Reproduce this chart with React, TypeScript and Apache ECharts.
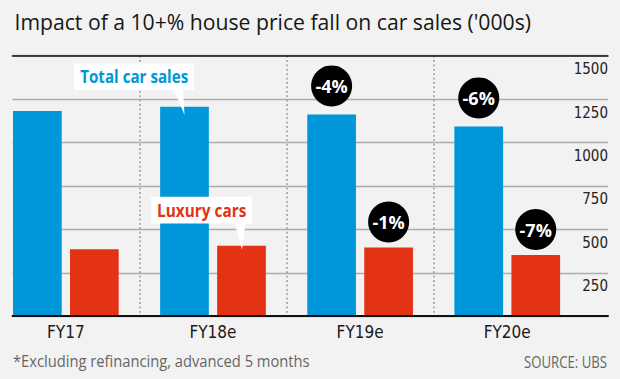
import React, { useEffect, useRef } from 'react';
import * as echarts from 'echarts';

const categories = ['FY17', 'FY18e', 'FY19e', 'FY20e'];
const totalSales = [1181, 1206, 1162, 1093];
const luxurySales = [386, 405, 396, 352];
const totalChange = ['', '', '-4%', '-6%'];
const luxuryChange = ['', '', '-1%', '-7%'];
const yMin = 0;
const yMax = 1500;
const yStep = 250;

const titleText = "Impact of a 10+% house price fall on car sales ('000s)";
const noteText = '*Excluding refinancing, advanced 5 months';
const sourceText = 'SOURCE: UBS';
const totalLabel = 'Total car sales';
const luxuryLabel = 'Luxury cars';

const BLUE = '#0096da';
const RED = '#e43214';
const BG = '#f2f2f2';
const UI_FONT = "'Open Sans', 'Noto Sans', sans-serif";
const AXIS_FONT = "'DejaVu Sans Condensed', 'DejaVu Sans', sans-serif";

function fit(text: string, size: number, weight: string, target: number) {
  const c = document.createElement('canvas').getContext('2d');
  if (!c) return 1;
  c.font = `${weight} ${size}px "Open Sans"`;
  const w = c.measureText(text).width;
  return w > 0 ? target / w : 1;
}

function textEl(id: string, text: string, x: number, y: number, size: number, weight: string,
  color: string, align: string, targetW: number) {
  return {
    type: 'text', id, x, y, z: 20,
    scaleX: fit(text, size, weight, targetW),
    style: {
      text, x: 0, y: 0, fontFamily: UI_FONT, fontSize: size, fontWeight: weight,
      fill: color, align, verticalAlign: 'middle',
    },
  };
}

export default function App() {
  const ref = useRef<HTMLDivElement>(null);
  useEffect(() => {
    if (!ref.current) return;
    const chart = echarts.init(ref.current, null, { renderer: 'svg' });
    const top = 55.7;
    const height = 260.5;
    const barW = 48.7;
    const gapPx = 8.3;
    const option: any = {
      animation: false,
      backgroundColor: BG,
      grid: [
        { left: -7.7, width: 588.5, top, height, outerBoundsMode: 'none', containLabel: false },
        { left: 12.5, right: 12, top, height, outerBoundsMode: 'none', containLabel: false },
      ],
      xAxis: [
        {
          gridIndex: 0, type: 'category', data: categories,
          axisLine: { show: false }, axisTick: { show: false },
          axisLabel: { fontFamily: AXIS_FONT, fontSize: 17, color: '#1a1a1a', margin: 7 },
          splitLine: {
            show: true, showMinLine: false, showMaxLine: false,
            lineStyle: { color: '#9c9c9c', width: 1.6, type: [1.8, 2.6] },
          },
        },
        {
          gridIndex: 1, type: 'value', min: 0, max: 1, position: 'bottom', z: 5,
          axisLine: { show: true, lineStyle: { color: '#111', width: 2 } },
          axisTick: { show: false }, axisLabel: { show: false }, splitLine: { show: false },
        },
        {
          gridIndex: 1, type: 'value', min: 0, max: 1, position: 'top', z: 5,
          axisLine: { show: true, lineStyle: { color: '#111', width: 1.5 } },
          axisTick: { show: false }, axisLabel: { show: false }, splitLine: { show: false },
        },
      ],
      yAxis: [
        { gridIndex: 0, type: 'value', min: yMin, max: yMax, interval: yStep, show: false },
        {
          gridIndex: 1, type: 'value', min: yMin, max: yMax, interval: yStep, position: 'right',
          axisLine: { show: false }, axisTick: { show: false },
          axisLabel: {
            inside: true, margin: 0, fontFamily: AXIS_FONT, fontSize: 15, color: '#222',
            verticalAlign: 'top', lineHeight: 15, padding: [6, 0, 0, 0],
            formatter: (v: number) => (v === 0 ? '' : String(v)),
          },
          splitLine: { show: true, lineStyle: { color: '#adadad', width: 1.3 } },
        },
      ],
      series: [
        {
          type: 'bar', name: totalLabel, xAxisIndex: 0, yAxisIndex: 0,
          data: totalSales, barWidth: barW, barGap: `${(gapPx / barW) * 100}%`,
          itemStyle: { color: BLUE },
          markPoint: {
            symbol: 'circle', symbolSize: 41, symbolOffset: [0, -28.5],
            itemStyle: { color: '#000' },
            label: {
              show: true, position: 'inside', color: '#fff', fontFamily: UI_FONT,
              fontWeight: 'bold', fontSize: 18, formatter: (p: any) => p.name,
            },
            data: categories
              .map((c, i) => ({ name: totalChange[i], coord: [c, totalSales[i]] }))
              .filter((d) => d.name),
          },
        },
        {
          type: 'bar', name: luxuryLabel, xAxisIndex: 0, yAxisIndex: 0,
          data: luxurySales, barWidth: barW,
          itemStyle: { color: RED },
          markPoint: {
            symbol: 'circle', symbolSize: 41, symbolOffset: [0, -25.5],
            itemStyle: { color: '#000' },
            label: {
              show: true, position: 'inside', color: '#fff', fontFamily: UI_FONT,
              fontWeight: 'bold', fontSize: 18, formatter: (p: any) => p.name,
            },
            data: categories
              .map((c, i) => ({ name: luxuryChange[i], coord: [c, luxurySales[i]] }))
              .filter((d) => d.name),
          },
        },
      ],
    };
    chart.setOption(option);

    const half = (barW + gapPx) / 2;
    const bp = chart.convertToPixel({ xAxisIndex: 0, yAxisIndex: 0 }, [categories[1], totalSales[1]]) as number[];
    const rp = chart.convertToPixel({ xAxisIndex: 0, yAxisIndex: 0 }, [categories[1], luxurySales[1]]) as number[];
    const bx = bp[0] - half, by = bp[1];
    const rx = rp[0] + half, ry = rp[1];

    chart.setOption({
      graphic: [
        textEl('title', titleText, 14.5, 21.7, 22, 'normal', '#161616', 'left', 517),
        textEl('note', noteText, 13, 361, 16, 'normal', '#666', 'left', 297),
        textEl('source', sourceText, 607, 361, 16, 'normal', '#666', 'right', 83),
        {
          type: 'group', id: 'blueCallout', z: 15,
          children: [
            { type: 'rect', z: 15, shape: { x: bx - 110.3, y: by - 43.35, width: 120, height: 26.7 }, style: { fill: '#fff' } },
            { type: 'polygon', z: 15, shape: { points: [[bx - 10.5, by - 17.5], [bx - 1.6, by - 17.5], [bx, by + 8.3]] }, style: { fill: '#fff' } },
          ],
        },
        textEl('blueText', totalLabel, bx - 50.3, by - 30, 17.5, 'bold', BLUE, 'center', 108),
        {
          type: 'group', id: 'redCallout', z: 15,
          children: [
            { type: 'rect', z: 15, shape: { x: rx - 90.3, y: ry - 49, width: 101, height: 26.6 }, style: { fill: '#fff' } },
            { type: 'polygon', z: 15, shape: { points: [[rx - 7, ry - 23], [rx + 4, ry - 23], [rx + 0.5, ry + 4]] }, style: { fill: '#fff' } },
          ],
        },
        textEl('redText', luxuryLabel, rx - 39.8, ry - 35.7, 17.5, 'bold', RED, 'center', 89.4),
      ],
    });
    return () => chart.dispose();
  }, []);
  return <div ref={ref} style={{ position: 'fixed', left: 0, top: 0, width: 620, height: 379 }} />;
}
